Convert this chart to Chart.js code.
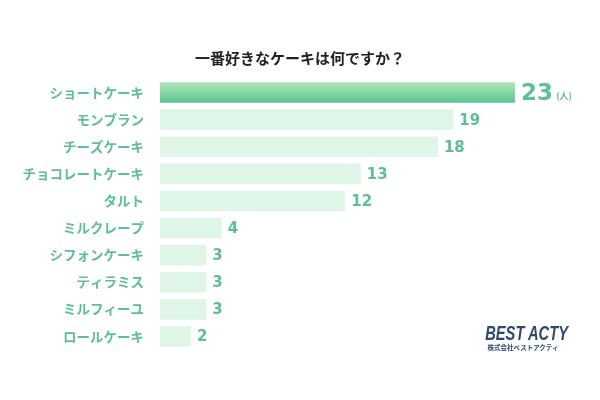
<!DOCTYPE html>
<html lang="ja">
<head>
<meta charset="utf-8">
<script src="https://cdn.jsdelivr.net/npm/chart.js@4"></script>
<style>
  html, body { margin: 0; padding: 0; background: #fff; }
  #wrap { position: relative; width: 600px; height: 400px; }
  #title {
    position: absolute; left: 0; top: 47px; width: 600px; text-align: center;
    font-family: "Noto Sans CJK JP", sans-serif; font-weight: 700; font-size: 15px; color: #222;
  }
  #logo { position: absolute; left: 469px; top: 323px; width: 108px; text-align: center; color: #2d4a6e; white-space: nowrap; }
  #logo .en {
    font-family: "Liberation Sans", sans-serif;
    font-weight: 700; font-style: italic; font-size: 21px; line-height: 20px;
    transform: scaleX(0.7); transform-origin: center;
  }
  #logo .jp {
    font-family: "Noto Sans CJK JP", sans-serif; font-weight: 700; font-size: 6.5px; line-height: 8px;
  }
</style>
</head>
<body>
<div id="wrap">
  <canvas id="chart" width="600" height="400"></canvas>
  <div id="title">一番好きなケーキは何ですか？</div>
  <div id="logo"><div class="en">BEST ACTY</div><div class="jp">株式会社ベストアクティ</div></div>
</div>
<script>
const categories = ['ショートケーキ', 'モンブラン', 'チーズケーキ', 'チョコレートケーキ', 'タルト',
  'ミルクレープ', 'シフォンケーキ', 'ティラミス', 'ミルフィーユ', 'ロールケーキ'];
const votes = [23, 19, 18, 13, 12, 4, 3, 3, 3, 2];
const unit = '(人)';

const green = '#5dbf96';
const lightBar = '#dff5e8';

const valueLabels = {
  id: 'valueLabels',
  afterDatasetsDraw(chart) {
    const ctx = chart.ctx;
    const meta = chart.getDatasetMeta(0);
    ctx.save();
    ctx.fillStyle = green;
    ctx.textBaseline = 'middle';
    ctx.textAlign = 'left';
    meta.data.forEach((bar, i) => {
      const x = bar.x + 6;
      if (i === 0) {
        ctx.font = 'bold 23px "DejaVu Sans", sans-serif';
        ctx.fillText(String(votes[i]), x, bar.y + 1);
        const w = ctx.measureText(String(votes[i])).width;
        ctx.font = 'bold 9px "Noto Sans CJK JP", sans-serif';
        ctx.fillText(unit, x + w + 3, bar.y + 3);
      } else {
        ctx.font = 'bold 15px "DejaVu Sans", sans-serif';
        ctx.fillText(String(votes[i]), x, bar.y + 1);
      }
    });
    ctx.restore();
  }
};

new Chart(document.getElementById('chart'), {
  type: 'bar',
  data: {
    labels: categories,
    datasets: [{
      data: votes,
      backgroundColor: (c) => {
        if (c.dataIndex !== 0) return lightBar;
        const chart = c.chart;
        if (!chart.chartArea || !chart.scales.y) return '#8fd6a8';
        const y = chart.scales.y.getPixelForValue(0);
        const g = chart.ctx.createLinearGradient(0, y - 10, 0, y + 10);
        g.addColorStop(0, '#aee6b6');
        g.addColorStop(1, '#5cc493');
        return g;
      },
      borderWidth: 0,
      categoryPercentage: 1,
      barPercentage: 0.76
    }]
  },
  options: {
    indexAxis: 'y',
    responsive: false,
    animation: false,
    layout: { padding: { top: 79, bottom: 50, left: 0, right: 54 } },
    plugins: { legend: { display: false }, tooltip: { enabled: false } },
    scales: {
      x: { min: 0, max: 25, display: false },
      y: {
        grid: { display: false },
        border: { display: false },
        afterFit: (s) => { s.width = 160; },
        ticks: {
          color: green,
          padding: 8,
          font: { family: '"Noto Sans CJK JP", sans-serif', size: 13.5, weight: 'bold' }
        }
      }
    }
  },
  plugins: [valueLabels]
});
</script>
</body>
</html>
